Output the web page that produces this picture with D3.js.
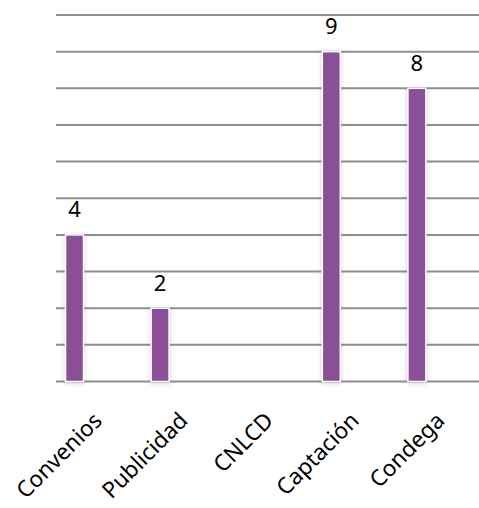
<!DOCTYPE html>
<html>
<head>
<meta charset="utf-8">
<script src="https://cdn.jsdelivr.net/npm/d3@7"></script>
<style>
  body { margin: 0; background: #fff; }
  svg { display: block; }
</style>
</head>
<body>
<svg id="chart" width="479" height="508"></svg>
<script>
const categories = ['Convenios', 'Publicidad', 'CNLCD', 'Captación', 'Condega'];
const values = [4, 2, null, 9, 8];
const gridTicks = [0, 1, 2, 3, 4, 5, 6, 7, 8, 9, 10];

const svg = d3.select('#chart');
const font = '"Noto Sans", sans-serif';

const xScale = d3.scaleBand()
  .domain(categories)
  .range([31.7, 459.7])
  .paddingInner(0.79)
  .paddingOuter(0.395);

const yScale = d3.scaleLinear()
  .domain([0, 10])
  .range([381.5, 15]);

// glow behind the bars
const defs = svg.append('defs');
const glow = defs.append('filter')
  .attr('id', 'glow')
  .attr('x', '-50%').attr('y', '-10%')
  .attr('width', '200%').attr('height', '120%');
glow.append('feDropShadow')
  .attr('dx', 0).attr('dy', 1)
  .attr('stdDeviation', 2)
  .attr('flood-color', '#8a5095')
  .attr('flood-opacity', 0.35);

// gridlines
svg.append('g')
  .selectAll('line')
  .data(gridTicks)
  .enter()
  .append('line')
  .attr('x1', 56)
  .attr('x2', 479)
  .attr('y1', d => yScale(d))
  .attr('y2', d => yScale(d))
  .attr('stroke', '#8e8e8e')
  .attr('stroke-width', 2);

const barData = categories
  .map((c, i) => ({ cat: c, v: values[i] }))
  .filter(d => d.v != null);

// bars
svg.append('g')
  .selectAll('rect')
  .data(barData)
  .enter()
  .append('rect')
  .attr('x', d => xScale(d.cat))
  .attr('y', d => yScale(d.v))
  .attr('width', xScale.bandwidth())
  .attr('height', d => yScale(0) - yScale(d.v))
  .attr('fill', '#8a5095')
  .attr('stroke', '#fff')
  .attr('stroke-width', 1.5)
  .attr('filter', 'url(#glow)');

// value labels
svg.append('g')
  .selectAll('text')
  .data(barData)
  .enter()
  .append('text')
  .attr('x', d => xScale(d.cat) + xScale.bandwidth() / 2)
  .attr('y', d => yScale(d.v) - 17.5)
  .attr('text-anchor', 'middle')
  .attr('font-family', font)
  .attr('font-size', '22px')
  .attr('fill', '#000')
  .text(d => d.v);

// category labels
svg.append('g')
  .selectAll('text')
  .data(categories)
  .enter()
  .append('text')
  .attr('transform', d =>
    'translate(' + (xScale(d) + xScale.bandwidth() / 2 + 29) + ',' + 422 + ') rotate(-45)')
  .attr('text-anchor', 'end')
  .attr('font-family', font)
  .attr('font-size', '22.5px')
  .attr('fill', '#000')
  .text(d => d);
</script>
</body>
</html>
